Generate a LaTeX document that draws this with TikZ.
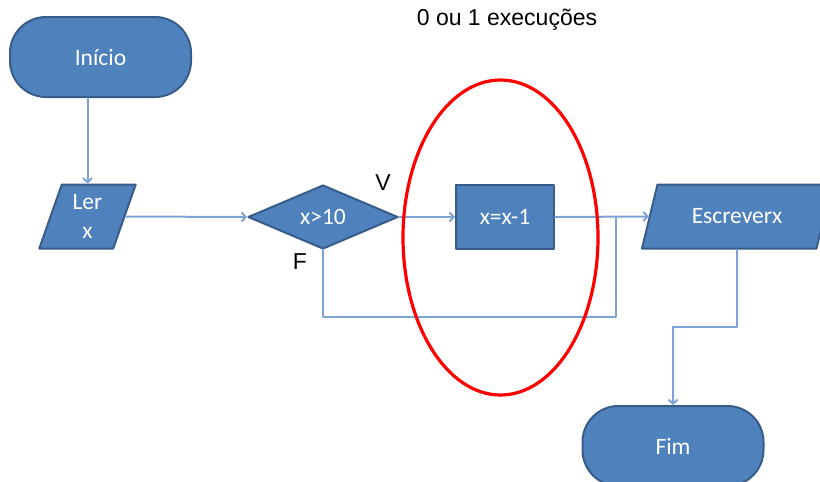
\documentclass[tikz,border=0pt]{standalone}
\usepackage{fontspec}
\setmainfont{Liberation Sans}
\newfontfamily\calibri{Carlito}
\usetikzlibrary{shapes.geometric,arrows.meta}
\definecolor{ttwwcc}{rgb}{0.31,0.51,0.74}
\definecolor{qqttww}{rgb}{0.22,0.36,0.54}
\definecolor{wwzzcc}{rgb}{0.49,0.64,0.84}
\definecolor{ffqqqq}{rgb}{1,0,0}

\begin{document}
\begin{tikzpicture}[line cap=round,line join=round,>={Straight Barb[length=4pt,width=9pt]},x=1pt,y=-1pt,
  bloco/.style={draw=qqttww,line width=2pt,fill=ttwwcc,text=white,font=\calibri\fontsize{23.5}{29}\selectfont,inner sep=0pt,align=center},
  terminal/.style={bloco,rounded corners=36pt,minimum width=181pt,minimum height=80pt},
  entrada/.style={bloco,trapezium,trapezium stretches=true,minimum height=64pt},
  seta/.style={wwzzcc,line width=2pt},
  rotulo/.style={font=\fontsize{23}{27}\selectfont}]
\useasboundingbox (0,0) rectangle (820,482);
\clip (0,0) rectangle (820,482);
% blocos do fluxograma
\node[terminal] (inicio) at (100.5,57) {Início};
\node[entrada,trapezium left angle=73.5,trapezium right angle=106.5,minimum width=97pt] (lerx) at (87.5,216.5) {Ler\\x};
\node[bloco,diamond,aspect=2.3,minimum width=150pt,minimum height=64pt] (teste) at (323,217) {x>10};
\node[bloco,minimum width=98pt,minimum height=64pt] (conta) at (505,217) {x=x-1};
\node[entrada,trapezium left angle=60,trapezium right angle=120,minimum width=190pt] (escrever) at (737,216.5) {Escreverx};
\node[terminal] (fim) at (673,446) {Fim};
\coordinate (juncao) at (616,217);
\coordinate (retorno) at (616,317);
\coordinate (desvio) at (673,327);
% ligacoes
\draw[seta,->] (inicio.south -| lerx.north) -- (lerx.north);
\draw[seta,->] (lerx.east) -- (teste.west);
\draw[seta,->] (teste.east) -- (conta.west);
\draw[seta,->] (conta.east) -- (escrever.west);
\draw[seta] (teste.south) |- (retorno) -- (juncao);
\draw[seta,->] (escrever.south) |- (desvio) -- (fim.north);
% rotulos
\node[rotulo] (verdade) at (383,183) {V};
\node[rotulo] (falso) at (300,262) {F};
\node[rotulo] (titulo) at (507,20) {0 ou 1 execuções};
\draw[ffqqqq,line width=3.2pt] (500.5,237.5) ellipse (97.5pt and 157.5pt);
\end{tikzpicture}
\end{document}
